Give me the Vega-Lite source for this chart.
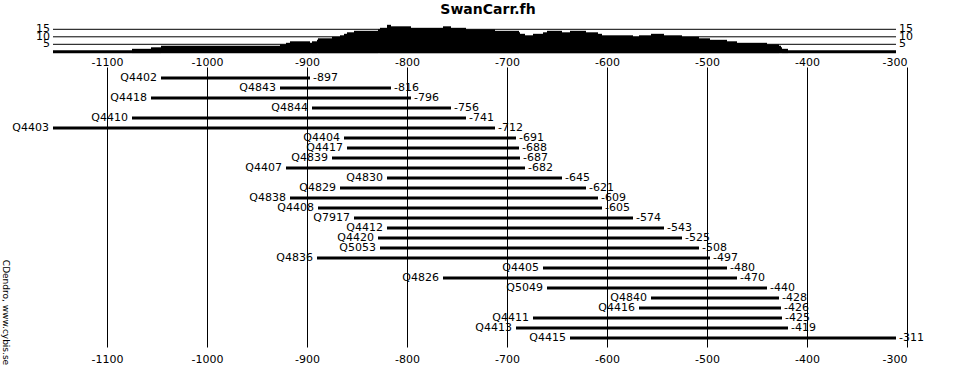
{
  "$schema": "https://vega.github.io/schema/vega-lite/v6.json",
  "autosize": "none",
  "width": 854,
  "height": 280,
  "padding": {"left": 53, "top": 67, "right": 70, "bottom": 25},
  "background": "white",
  "title": {"text": "SwanCarr.fh", "anchor": "middle", "offset": 6, "dx": 8, "fontSize": 14, "fontWeight": "bold", "font": "DejaVu Sans", "color": "black"},
  "config": {"font": "DejaVu Sans", "view": {"stroke": null}},
  "datasets": {
    "series": [
      {"name": "Q4402", "start": -1046, "end": -897},
      {"name": "Q4843", "start": -927, "end": -816},
      {"name": "Q4418", "start": -1056, "end": -796},
      {"name": "Q4844", "start": -895, "end": -756},
      {"name": "Q4410", "start": -1075, "end": -741},
      {"name": "Q4403", "start": -1154, "end": -712},
      {"name": "Q4404", "start": -863, "end": -691},
      {"name": "Q4417", "start": -860, "end": -688},
      {"name": "Q4839", "start": -875, "end": -687},
      {"name": "Q4407", "start": -921, "end": -682},
      {"name": "Q4830", "start": -820, "end": -645},
      {"name": "Q4829", "start": -867, "end": -621},
      {"name": "Q4838", "start": -917, "end": -609},
      {"name": "Q4408", "start": -889, "end": -605},
      {"name": "Q7917", "start": -853, "end": -574},
      {"name": "Q4412", "start": -820, "end": -543},
      {"name": "Q4420", "start": -829, "end": -525},
      {"name": "Q5053", "start": -827, "end": -508},
      {"name": "Q4836", "start": -890, "end": -497},
      {"name": "Q4405", "start": -664, "end": -480},
      {"name": "Q4826", "start": -764, "end": -470},
      {"name": "Q5049", "start": -660, "end": -440},
      {"name": "Q4840", "start": -556, "end": -428},
      {"name": "Q4416", "start": -568, "end": -426},
      {"name": "Q4411", "start": -674, "end": -425},
      {"name": "Q4413", "start": -691, "end": -419},
      {"name": "Q4415", "start": -637, "end": -311}
    ],
    "depth": [
      {"from": -1154, "to": -1075, "n": 1},
      {"from": -1075, "to": -1056, "n": 2},
      {"from": -1056, "to": -1046, "n": 3},
      {"from": -1046, "to": -927, "n": 4},
      {"from": -927, "to": -921, "n": 5},
      {"from": -921, "to": -917, "n": 6},
      {"from": -917, "to": -897, "n": 7},
      {"from": -897, "to": -895, "n": 6},
      {"from": -895, "to": -890, "n": 7},
      {"from": -890, "to": -889, "n": 8},
      {"from": -889, "to": -875, "n": 9},
      {"from": -875, "to": -867, "n": 10},
      {"from": -867, "to": -863, "n": 11},
      {"from": -863, "to": -860, "n": 12},
      {"from": -860, "to": -853, "n": 13},
      {"from": -853, "to": -829, "n": 14},
      {"from": -829, "to": -827, "n": 15},
      {"from": -827, "to": -820, "n": 16},
      {"from": -820, "to": -816, "n": 18},
      {"from": -816, "to": -796, "n": 17},
      {"from": -796, "to": -764, "n": 16},
      {"from": -764, "to": -756, "n": 17},
      {"from": -756, "to": -741, "n": 16},
      {"from": -741, "to": -712, "n": 15},
      {"from": -712, "to": -688, "n": 14},
      {"from": -688, "to": -687, "n": 13},
      {"from": -687, "to": -682, "n": 12},
      {"from": -682, "to": -674, "n": 11},
      {"from": -674, "to": -664, "n": 12},
      {"from": -664, "to": -660, "n": 13},
      {"from": -660, "to": -645, "n": 14},
      {"from": -645, "to": -637, "n": 13},
      {"from": -637, "to": -621, "n": 14},
      {"from": -621, "to": -609, "n": 13},
      {"from": -609, "to": -605, "n": 12},
      {"from": -605, "to": -574, "n": 11},
      {"from": -574, "to": -568, "n": 10},
      {"from": -568, "to": -556, "n": 11},
      {"from": -556, "to": -543, "n": 12},
      {"from": -543, "to": -525, "n": 11},
      {"from": -525, "to": -508, "n": 10},
      {"from": -508, "to": -497, "n": 9},
      {"from": -497, "to": -480, "n": 8},
      {"from": -480, "to": -470, "n": 7},
      {"from": -470, "to": -440, "n": 6},
      {"from": -440, "to": -428, "n": 5},
      {"from": -428, "to": -426, "n": 4},
      {"from": -426, "to": -425, "n": 3},
      {"from": -425, "to": -419, "n": 2},
      {"from": -419, "to": -311, "n": 1}
    ],
    "levels": [{"level": 5}, {"level": 10}, {"level": 15}]
  },
  "layer": [
    {
      "data": {"name": "depth"},
      "mark": {"type": "rect", "color": "black"},
      "encoding": {
        "x": {"field": "from", "type": "quantitative", "scale": {"domain": [-1154, -300], "nice": false, "zero": false},
          "axis": {"orient": "top", "values": [-1100, -1000, -900, -800, -700, -600, -500, -400, -300], "labelExpr": "'' + datum.value", "grid": true, "gridColor": "black", "gridOpacity": 1, "gridWidth": 1, "ticks": false, "tickSize": 0, "domain": false, "labelPadding": 0, "labelFontSize": 11, "labelColor": "black", "title": null}},
        "x2": {"field": "to"},
        "y": {"field": "n", "type": "quantitative", "scale": {"domain": [-196.8, -10.13], "nice": false, "zero": false}, "axis": null},
        "y2": {"datum": -1}
      }
    },
    {
      "data": {"name": "levels"},
      "mark": {"type": "rule", "color": "black", "strokeWidth": 1},
      "encoding": {
        "x": {"datum": -1154, "type": "quantitative", "scale": {"domain": [-1154, -300], "nice": false, "zero": false}, "axis": null},
        "x2": {"datum": -311},
        "y": {"field": "level", "type": "quantitative", "scale": {"domain": [-196.8, -10.13], "nice": false, "zero": false}, "axis": null}
      }
    },
    {
      "data": {"name": "levels"},
      "mark": {"type": "text", "align": "right", "baseline": "middle", "dx": -3, "fontSize": 11, "color": "black"},
      "encoding": {
        "x": {"datum": -1154, "type": "quantitative", "scale": {"domain": [-1154, -300], "nice": false, "zero": false}, "axis": null},
        "y": {"field": "level", "type": "quantitative", "scale": {"domain": [-196.8, -10.13], "nice": false, "zero": false}, "axis": null},
        "text": {"field": "level", "type": "nominal"}
      }
    },
    {
      "data": {"name": "levels"},
      "mark": {"type": "text", "align": "left", "baseline": "middle", "dx": 3, "fontSize": 11, "color": "black"},
      "encoding": {
        "x": {"datum": -311, "type": "quantitative", "scale": {"domain": [-1154, -300], "nice": false, "zero": false}, "axis": null},
        "y": {"field": "level", "type": "quantitative", "scale": {"domain": [-196.8, -10.13], "nice": false, "zero": false}, "axis": null},
        "text": {"field": "level", "type": "nominal"}
      }
    },
    {
      "data": {"name": "series"},
      "mark": {"type": "rule", "color": "black", "strokeWidth": 3, "strokeCap": "butt"},
      "encoding": {
        "x": {"field": "start", "type": "quantitative", "scale": {"domain": [-1154, -300], "nice": false, "zero": false},
          "axis": {"orient": "bottom", "values": [-1100, -1000, -900, -800, -700, -600, -500, -400, -300], "labelExpr": "'' + datum.value", "grid": false, "ticks": false, "tickSize": 0, "domain": false, "labelPadding": 6, "labelFontSize": 11, "labelColor": "black", "title": null}},
        "x2": {"field": "end"},
        "y": {"field": "name", "type": "nominal", "sort": null, "scale": {"type": "point", "padding": 1, "align": 0.55},
          "axis": {"title": "CDendro, www.cybis.se", "titleAngle": 90, "titleX": -48, "titleY": 245, "titleAlign": "center", "titleBaseline": "middle", "titleFontSize": 9, "titleFontWeight": "normal", "titleColor": "black", "labels": false, "ticks": false, "domain": false, "grid": false}}
      }
    },
    {
      "data": {"name": "series"},
      "mark": {"type": "text", "align": "right", "baseline": "middle", "dx": -4, "fontSize": 11, "color": "black"},
      "encoding": {
        "x": {"field": "start", "type": "quantitative", "scale": {"domain": [-1154, -300], "nice": false, "zero": false}, "axis": null},
        "y": {"field": "name", "type": "nominal", "sort": null, "scale": {"type": "point", "padding": 1, "align": 0.55}, "axis": null},
        "text": {"field": "name", "type": "nominal"}
      }
    },
    {
      "data": {"name": "series"},
      "mark": {"type": "text", "align": "left", "baseline": "middle", "dx": 3, "fontSize": 11, "color": "black"},
      "encoding": {
        "x": {"field": "end", "type": "quantitative", "scale": {"domain": [-1154, -300], "nice": false, "zero": false}, "axis": null},
        "y": {"field": "name", "type": "nominal", "sort": null, "scale": {"type": "point", "padding": 1, "align": 0.55}, "axis": null},
        "text": {"field": "end", "type": "nominal"}
      }
    }
  ],
  "resolve": {"scale": {"y": "independent"}, "axis": {"x": "independent", "y": "independent"}}
}
